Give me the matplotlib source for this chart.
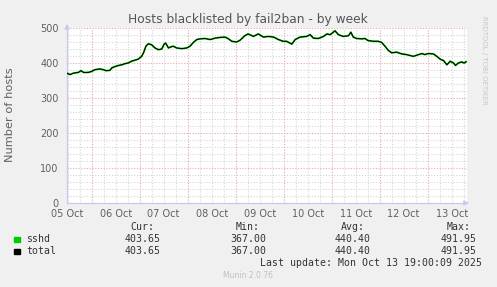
import matplotlib
matplotlib.use("Agg")
import matplotlib.pyplot as plt

# time in days since 05 Oct 00:00, values = number of blacklisted hosts
days = [0.48, 0.55, 0.62, 0.72, 0.78, 0.83, 0.93, 1.00, 1.07, 1.17, 1.24, 1.30,
        1.38, 1.42, 1.49, 1.56, 1.63, 1.69, 1.76, 1.83, 1.90, 1.97, 2.04, 2.08,
        2.13, 2.18, 2.25, 2.32, 2.39, 2.46, 2.51, 2.54, 2.60, 2.65, 2.70, 2.77,
        2.88, 2.98, 3.05, 3.12, 3.19, 3.26, 3.36, 3.47, 3.57, 3.67, 3.78, 3.85,
        3.92, 4.02, 4.09, 4.19, 4.26, 4.37, 4.47, 4.58, 4.68, 4.79, 4.89, 4.99,
        5.06, 5.17, 5.24, 5.34, 5.48, 5.55, 5.62, 5.72, 5.83, 5.90, 5.97, 6.07,
        6.14, 6.24, 6.35, 6.40, 6.45, 6.52, 6.63, 6.69, 6.76, 6.87, 6.97, 7.04,
        7.11, 7.18, 7.25, 7.35, 7.46, 7.56, 7.70, 7.81, 7.88, 7.94, 8.01, 8.12,
        8.19, 8.26, 8.33, 8.40, 8.47, 8.54, 8.58, 8.64, 8.71, 8.76, 8.80]
hosts = [371, 367, 371, 373, 378, 373, 373, 376, 381, 383, 381, 378,
         379, 386, 390, 393, 395, 398, 400, 405, 408, 411, 419, 429,
         448, 455, 452, 443, 438, 440, 454, 457, 443, 446, 448, 443,
         441, 443, 448, 459, 467, 469, 470, 467, 471, 473, 474, 469,
         462, 460, 465, 478, 483, 476, 483, 474, 476, 474, 467, 462,
         462, 454, 467, 474, 476, 481, 471, 470, 476, 483, 481, 491.95,
         481, 476, 478, 488, 474, 470, 469, 470, 464, 462, 462, 459,
         448, 436, 429, 431, 426, 424, 419, 424, 427, 424, 427, 426,
         419, 411, 407, 395, 405, 400, 393, 400, 403, 400, 403.65]

day_labels = ["05 Oct", "06 Oct", "07 Oct", "08 Oct", "09 Oct",
              "10 Oct", "11 Oct", "12 Oct", "13 Oct"]
y_ticks = [0, 100, 200, 300, 400, 500]

series = ["sshd", "total"]
series_colors = ["#00cc00", "#000000"]
cur = ["403.65", "403.65"]
mins = ["367.00", "367.00"]
avgs = ["440.40", "440.40"]
maxs = ["491.95", "491.95"]

W, H = 497, 287
fig = plt.figure(figsize=(W / 100, H / 100), dpi=100)
fig.patch.set_facecolor("#f0f0f0")

ax = fig.add_axes([67 / W, 1 - 203 / H, 400 / W, 175 / H])
ax.set_facecolor("white")
ax.set_xlim(0.486, 8.819)
ax.set_ylim(0, 500)

# grid: minor gray every 6h / 20 hosts, major red every day / 100 hosts
minor_col = "#d6d6d6"
major_col = "#e8a8a8"
t = 0.5
while t < 8.82:
    if abs(t - round(t)) > 1e-6:
        ax.axvline(t, color=minor_col, lw=0.8, ls=(0, (1, 1.5)), zorder=1)
    t += 0.25
for d in range(1, 9):
    ax.axvline(d, color=major_col, lw=0.8, ls=(0, (1, 1.5)), zorder=1.5)
for v in range(20, 501, 20):
    if v % 100:
        ax.axhline(v, color=minor_col, lw=0.8, ls=(0, (1, 1.5)), zorder=1)
for v in y_ticks[1:]:
    ax.axhline(v, color=major_col, lw=0.8, ls=(0, (1, 1.5)), zorder=1.5)

ax.plot(days, hosts, color=series_colors[0], lw=1.3, zorder=3)
ax.plot(days, hosts, color=series_colors[1], lw=0.75, zorder=4)

for s in ["top", "right"]:
    ax.spines[s].set_visible(False)
for s in ["left", "bottom"]:
    ax.spines[s].set_color("#c8c8f0")
    ax.spines[s].set_linewidth(0.9)
ax.annotate("", xy=(0, 1.04), xytext=(0, 0.99), xycoords="axes fraction",
            arrowprops=dict(arrowstyle="-|>", color="#c8c8f0", lw=0.9, mutation_scale=7))
ax.annotate("", xy=(1.012, 0), xytext=(0.99, 0), xycoords="axes fraction",
            arrowprops=dict(arrowstyle="-|>", color="#c8c8f0", lw=0.9, mutation_scale=7))

ax.set_xticks([d + 0.5 for d in range(len(day_labels))])
ax.set_xticklabels(day_labels)
ax.set_yticks(y_ticks)
ax.tick_params(length=0, labelsize=7, colors="#606060")
ax.tick_params(axis="x", pad=4.5)
ax.tick_params(axis="y", pad=6)

fig.text(10.5 / W, 1 - 115 / H, "Number of hosts", rotation=90,
         ha="center", va="center", fontsize=8.2, color="#606060")
fig.text(248 / W, 1 - 19 / H, "Hosts blacklisted by fail2ban - by week",
         ha="center", va="center", fontsize=8.8, color="#555555")
fig.text(484 / W, 1 - 60 / H, "RRDTOOL / TOBI OETIKER", rotation=270,
         ha="center", va="center", fontsize=5, color="#c8c8c8")

# legend block
mono = dict(family="DejaVu Sans Mono", fontsize=7.1, color="#333333")
col_x = [160.7, 266, 371, 476.7]
heads = ["Cur:", "Min:", "Avg:", "Max:"]
for x, h in zip(col_x, heads):
    fig.text((x - 6) / W, 1 - 227 / H, h, ha="right", va="center", **mono)
rows_y = [239.5, 251.5]
for i, name in enumerate(series):
    y = 1 - rows_y[i] / H
    fig.patches.append(plt.Rectangle((14 / W, y - 2.8 / H), 5.5 / W, 5.5 / H,
                                     transform=fig.transFigure, color=series_colors[i]))
    fig.text(26 / W, y, name, ha="left", va="center", **mono)
    for x, val in zip(col_x, [cur[i], mins[i], avgs[i], maxs[i]]):
        fig.text(x / W, y, val, ha="right", va="center", **mono)
fig.text(482 / W, 1 - 263.5 / H, "Last update: Mon Oct 13 19:00:09 2025",
         ha="right", va="center", **mono)
fig.text(248 / W, 1 - 276 / H, "Munin 2.0.76", ha="center", va="center",
         fontsize=5.5, color="#c0c0c0")

fig.savefig("out.png", dpi=100, facecolor=fig.get_facecolor())
